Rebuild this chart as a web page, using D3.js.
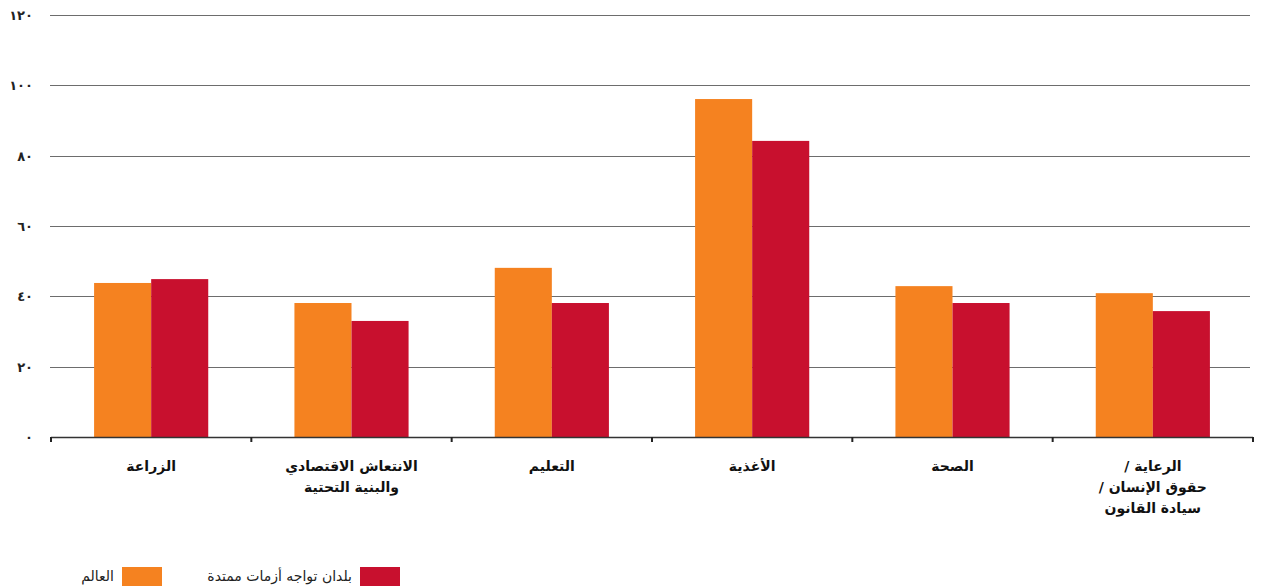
<!DOCTYPE html>
<html><head><meta charset="utf-8">
<script src="https://cdn.jsdelivr.net/npm/d3@7"></script>
<style>body{margin:0;background:#fff}svg{display:block}</style>
</head><body>
<script>
const categories = [
  ["الزراعة"],
  ["الانتعاش الاقتصادي", "والبنية التحتية"],
  ["التعليم"],
  ["الأغذية"],
  ["الصحة"],
  ["الرعاية /", "حقوق الإنسان /", "سيادة القانون"]
];
const seriesNames = ["العالم", "بلدان تواجه أزمات ممتدة"];
const worldValues = [43.8, 38.1, 48.1, 96.1, 42.9, 40.9];
const crisisValues = [44.9, 33.0, 38.1, 84.2, 38.1, 35.8];
const yTicks = [0, 20, 40, 60, 80, 100, 120];
const yTickLabels = ["٠", "٢٠", "٤٠", "٦٠", "٨٠", "١٠٠", "١٢٠"];
const colors = ["#F58220", "#C8102E"];

const W = 1272, H = 588;
const svg = d3.select("body").append("svg").attr("width", W).attr("height", H);
const font = "DejaVu Sans, sans-serif";

const x0 = d3.scaleBand().domain(d3.range(categories.length)).range([51, 1253]).padding(0);
const x1 = d3.scaleBand().domain([0, 1]).range([0, x0.bandwidth()]).paddingInner(0).paddingOuter(0.755);
const y = d3.scaleLinear().domain([0, 120]).range([437, 15]);

// gridlines
svg.append("g").selectAll("line").data(yTicks.filter(d => d > 0)).join("line")
  .attr("x1", 50).attr("x2", 1250)
  .attr("y1", d => Math.round(y(d)) + 0.5).attr("y2", d => Math.round(y(d)) + 0.5)
  .attr("stroke", "#6d6d6d").attr("stroke-width", 1);

// y labels
svg.append("g").selectAll("text").data(yTicks).join("text")
  .attr("x", 33).attr("y", d => y(d) + 5)
  .attr("text-anchor", "end").attr("font-family", font).attr("font-weight", "bold")
  .attr("font-size", 13).attr("fill", "#222")
  .text((d, i) => yTickLabels[i]);

// bars
const g = svg.append("g").selectAll("g").data(categories).join("g")
  .attr("transform", (d, i) => `translate(${x0(i)},0)`);
g.selectAll("rect").data((d, i) => [worldValues[i], crisisValues[i]]).join("rect")
  .attr("x", (d, j) => x1(j)).attr("width", x1.bandwidth())
  .attr("y", d => y(d)).attr("height", d => y(0) - y(d))
  .attr("fill", (d, j) => colors[j]);

// x axis
const xAxis = svg.append("g");
xAxis.append("line").attr("x1", 51).attr("x2", 1253).attr("y1", 437.5).attr("y2", 437.5)
  .attr("stroke", "#333").attr("stroke-width", 1.5);
const bounds = d3.range(categories.length + 1).map(i => i < categories.length ? x0(i) : x0(i - 1) + x0.bandwidth());
xAxis.selectAll(".tk").data(bounds).join("line")
  .attr("x1", d => d).attr("x2", d => d).attr("y1", 437).attr("y2", 442)
  .attr("stroke", "#222").attr("stroke-width", 2);

// category labels
svg.append("g").selectAll("text").data(categories).join("text")
  .attr("x", (d, i) => x0(i) + x0.bandwidth() / 2).attr("y", 471)
  .attr("text-anchor", "middle").attr("direction", "rtl")
  .attr("font-family", font).attr("font-weight", "bold").attr("font-size", 14).attr("fill", "#111")
  .each(function(d) {
    d3.select(this).selectAll("tspan").data(d).join("tspan")
      .attr("x", d3.select(this).attr("x")).attr("dy", (t, k) => k === 0 ? 0 : 21)
      .text(t => t);
  });

// legend
const legend = [
  {sx: 122, tx: 114, i: 0},
  {sx: 360, tx: 352, i: 1}
];
legend.forEach(l => {
  svg.append("rect").attr("x", l.sx).attr("y", 567).attr("width", 40).attr("height", 19).attr("fill", colors[l.i]);
  svg.append("text").attr("x", l.tx).attr("y", 581).attr("text-anchor", "end")
    .attr("font-family", font).attr("font-size", 14).attr("fill", "#222").text(seriesNames[l.i]);
});
</script>
</body></html>
